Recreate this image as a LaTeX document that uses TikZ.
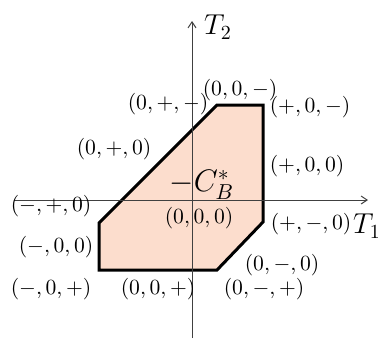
\documentclass[tikz,border=0pt]{standalone}
\usepackage{graphicx}
\usetikzlibrary{arrows.meta}
\definecolor{regfill}{RGB}{252,221,205}
\newcommand\mylbl[1]{\scalebox{1.08}{$#1$}}
\begin{document}
\begin{tikzpicture}[x=0.5pt,y=-0.5pt,
  lab/.style={inner sep=0pt},
  biglab/.style={inner sep=0pt,font=\Large},
  axis/.style={draw=black!75,line width=0.5pt,-{Straight Barb[length=3pt,width=4pt]}},
  region/.style={fill=regfill,draw=black,line width=1.5pt,line join=miter}]
\useasboundingbox (0,0) rectangle (378,339);
% region
\coordinate (v1) at (217,105);
\coordinate (v2) at (263,105);
\coordinate (v3) at (263,222);
\coordinate (v4) at (217,270);
\coordinate (v5) at (99,270);
\coordinate (v6) at (99,223);
\filldraw[region] (v1) -- (v2) -- (v3) -- (v4) -- (v5) -- (v6) -- cycle;
% axes
\coordinate (xs) at (14,200);
\coordinate (xe) at (368,200);
\coordinate (ys) at (192,338);
\coordinate (ye) at (192,21);
\draw[axis] (xs) -- (xe);
\draw[axis] (ys) -- (ye);
\node[biglab] (T1) at (367,226) {$T_1$};
\node[biglab] (T2) at (218,27) {$T_2$};
\node[biglab] (CB) at (202,185) {\mylbl{-C_B^*}};
% labels
\node[lab] (l1) at (240,90) {\mylbl{(0,0,-)}};
\node[lab] (l2) at (168,104) {\mylbl{(0,+,-)}};
\node[lab] (l3) at (310,107) {\mylbl{(+,0,-)}};
\node[lab] (l4) at (114,149) {\mylbl{(0,+,0)}};
\node[lab] (l5) at (307,166) {\mylbl{(+,0,0)}};
\node[lab] (l6) at (51,206) {\mylbl{(-,+,0)}};
\node[lab] (l7) at (199,218) {\mylbl{(0,0,0)}};
\node[lab] (l8) at (311,224) {\mylbl{(+,-,0)}};
\node[lab] (l9) at (56,247) {\mylbl{(-,0,0)}};
\node[lab] (l10) at (282,265) {\mylbl{(0,-,0)}};
\node[lab] (l11) at (51,289) {\mylbl{(-,0,+)}};
\node[lab] (l12) at (158,289) {\mylbl{(0,0,+)}};
\node[lab] (l13) at (264,289) {\mylbl{(0,-,+)}};
\end{tikzpicture}
\end{document}
